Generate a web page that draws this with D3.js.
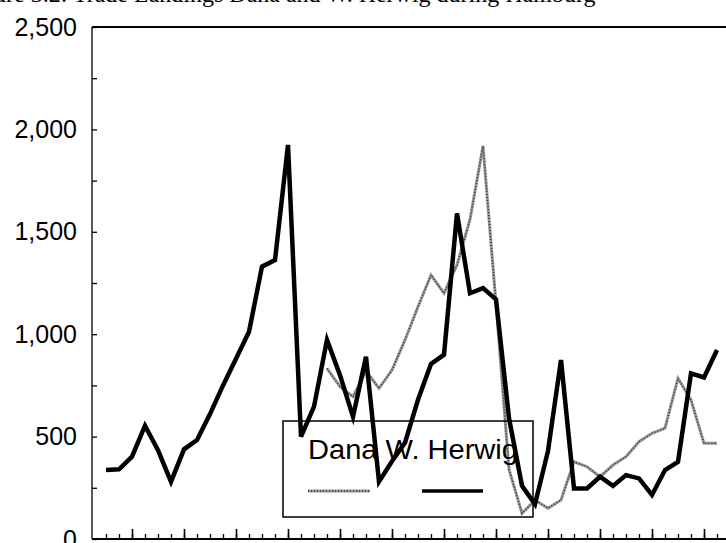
<!DOCTYPE html>
<html>
<head>
<script src="https://d3js.org/d3.v7.min.js" charset="utf-8"></script>
<style>
    body { margin: 0; background: #fff; }
    svg { display: block; }
</style>
</head>
<body>
<script>
    // months along the x axis (48 periods)
    var periods = d3.range(1, 49);

    // W. Herwig (black solid line)
    var herwig = [337, 340, 402, 553, 434, 280, 438, 483, 610, 750,
                  880, 1012, 1330, 1362, 1924, 500, 646, 972, 800, 597,
                  890, 280, 380, 470, 680, 855, 900, 1590, 1200, 1225,
                  1170, 590, 260, 170, 430, 874, 247, 247, 304, 259,
                  312, 296, 215, 337, 377, 809, 789, 923];

    // Dana (grey dotted line), starts at period 18
    var dana = [null, null, null, null, null, null, null, null, null, null,
                null, null, null, null, null, null, null, 833, 744, 695,
                820, 736, 825, 972, 1134, 1289, 1200, 1338, 1560, 1919,
                1150, 340, 125, 190, 150, 190, 377, 353, 304, 361,
                402, 475, 516, 541, 785, 679, 467, 467];

    var yTicks = [0, 500, 1000, 1500, 2000, 2500];
    var legendNames = ["Dana", "W. Herwig"];
    var title = "Figure 3.2: Trade Landings Dana and W. Herwig during Hamburg";

    var w = 726, h = 543;
    var mLeft = 92, mTop = 27, mBottom = 539;

    var svg = d3.select("body").append("svg")
        .attr("width", w)
        .attr("height", h);

    var x = d3.scaleLinear().domain([0, periods.length - 1]).range([106, 717]);
    var y = d3.scaleLinear().domain([0, 2500]).range([mBottom, mTop]);

    // caption, mostly cut off at the top edge
    svg.append("text")
        .attr("x", -38).attr("y", 2)
        .attr("font-family", "Liberation Serif")
        .attr("font-size", 24)
        .text(title);

    // frame
    svg.append("line").attr("x1", mLeft).attr("x2", w).attr("y1", mTop).attr("y2", mTop)
        .attr("stroke", "#000").attr("stroke-width", 2);
    svg.append("line").attr("x1", mLeft).attr("x2", w).attr("y1", mBottom).attr("y2", mBottom)
        .attr("stroke", "#000").attr("stroke-width", 2);
    svg.append("line").attr("x1", mLeft).attr("x2", mLeft).attr("y1", mTop).attr("y2", mBottom)
        .attr("stroke", "#222").attr("stroke-width", 1.5);

    // y labels
    var yAxis = svg.append("g")
        .attr("transform", "translate(" + mLeft + ",0)")
        .call(d3.axisLeft(y).tickValues(yTicks).tickFormat(d3.format(",")).tickSize(0).tickPadding(15));
    yAxis.select(".domain").remove();
    yAxis.selectAll("text")
        .attr("font-family", "Liberation Sans, Arial")
        .attr("font-size", 25)
        .attr("fill", "#000");

    // y inner ticks
    var yTickG = svg.append("g")
        .attr("transform", "translate(" + mLeft + ",0)")
        .call(d3.axisRight(y).tickValues(d3.range(0, 2501, 250)).tickFormat("").tickSize(5));
    yTickG.select(".domain").remove();
    yTickG.selectAll("line").attr("stroke", "#000").attr("stroke-width", 1.3);

    // x ticks (minor every period, taller every fourth)
    var xMinor = svg.append("g")
        .attr("transform", "translate(0," + mBottom + ")")
        .call(d3.axisTop(x).tickValues(d3.range(periods.length)).tickFormat("").tickSize(5));
    xMinor.select(".domain").remove();
    xMinor.selectAll("line").attr("stroke", "#000").attr("stroke-width", 1.3);

    var xMajor = svg.append("g")
        .attr("transform", "translate(0," + mBottom + ")")
        .call(d3.axisTop(x).tickValues(d3.range(2, periods.length, 4)).tickFormat("").tickSize(10));
    xMajor.select(".domain").remove();
    xMajor.selectAll("line").attr("stroke", "#000").attr("stroke-width", 1.6);

    var line = d3.line()
        .defined(function(d) { return d != null; })
        .x(function(d, i) { return x(i); })
        .y(function(d) { return y(d); });

    // Dana
    svg.append("path")
        .datum(dana)
        .attr("d", line)
        .attr("fill", "none")
        .attr("stroke", "#999")
        .attr("stroke-width", 3);
    svg.append("path")
        .datum(dana)
        .attr("d", line)
        .attr("fill", "none")
        .attr("stroke", "#333")
        .attr("stroke-width", 1.5)
        .attr("stroke-dasharray", "1,2");

    // W. Herwig
    svg.append("path")
        .datum(herwig)
        .attr("d", line)
        .attr("fill", "none")
        .attr("stroke", "#000")
        .attr("stroke-width", 4.5)
        .attr("stroke-linejoin", "miter");

    // legend
    var lg = svg.append("g");
    lg.append("rect")
        .attr("x", 283).attr("y", 421)
        .attr("width", 250).attr("height", 96)
        .attr("fill", "none").attr("stroke", "#000").attr("stroke-width", 1.5);
    lg.append("text")
        .attr("x", 308).attr("y", 459)
        .attr("font-family", "Liberation Sans, Arial")
        .attr("font-size", 27)
        .attr("textLength", 210)
        .attr("lengthAdjust", "spacingAndGlyphs")
        .text(legendNames.join(" "));
    lg.append("line")
        .attr("x1", 308).attr("x2", 370).attr("y1", 491).attr("y2", 491)
        .attr("stroke", "#999").attr("stroke-width", 3);
    lg.append("line")
        .attr("x1", 308).attr("x2", 370).attr("y1", 491).attr("y2", 491)
        .attr("stroke", "#333").attr("stroke-width", 1.5).attr("stroke-dasharray", "1,2");
    lg.append("line")
        .attr("x1", 422).attr("x2", 483).attr("y1", 491).attr("y2", 491)
        .attr("stroke", "#000").attr("stroke-width", 3.5);
</script>
</body>
</html>
